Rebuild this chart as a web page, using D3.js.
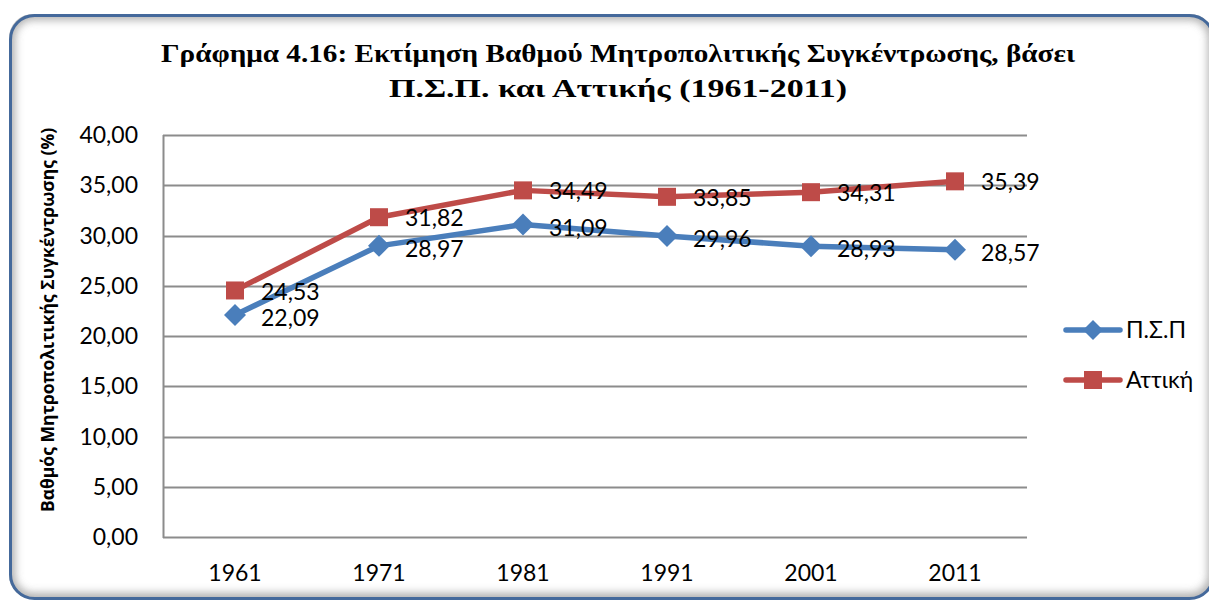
<!DOCTYPE html>
<html><head><meta charset="utf-8">
<script src="https://cdn.jsdelivr.net/npm/d3@7"></script>
<style>body{margin:0;background:#fff;}svg{display:block;}</style>
</head><body>
<svg id="c" width="1209" height="601"></svg>
<script>
const categories = ["1961","1971","1981","1991","2001","2011"];
const psp = [22.09, 28.97, 31.09, 29.96, 28.93, 28.57];
const attiki = [24.53, 31.82, 34.49, 33.85, 34.31, 35.39];
const yTicks = [0,5,10,15,20,25,30,35,40];
const seriesNames = ["Π.Σ.Π", "Αττική"];
const colors = ["#4a7ebb", "#be4b48"];
const titleLines = ["Γράφημα 4.16: Εκτίμηση Βαθμού Μητροπολιτικής Συγκέντρωσης, βάσει", "Π.Σ.Π. και Αττικής (1961-2011)"];
const yTitle = "Βαθμός Μητροπολιτικής Συγκέντρωσης (%)";

const svg = d3.select("#c");
const defs = svg.append("defs");
const f = defs.append("filter").attr("id","blur").attr("x","-10%").attr("y","-10%").attr("width","120%").attr("height","120%");
f.append("feGaussianBlur").attr("stdDeviation",4);
const clip = defs.append("clipPath").attr("id","fr");
clip.append("rect").attr("x",9).attr("y",14).attr("width",1205).attr("height",585).attr("rx",24);

// frame inner shadow
svg.append("g").attr("clip-path","url(#fr)")
  .append("rect").attr("x",9).attr("y",14).attr("width",1205).attr("height",585).attr("rx",24)
  .attr("fill","none").attr("stroke","#9a9a9a").attr("stroke-width",12).attr("filter","url(#blur)").attr("opacity",0.8);
svg.append("rect").attr("x",10.5).attr("y",15.5).attr("width",1203).attr("height",583).attr("rx",24)
  .attr("fill","none").attr("stroke","#44699b").attr("stroke-width",3);

const L=163, R=1027, T=135, B=537;
const x = d3.scalePoint().domain(categories).range([L,R]).padding(0.5);
const y = d3.scaleLinear().domain([0,40]).range([B,T]);

// gridlines
svg.append("g").selectAll("line").data(yTicks).join("line")
  .attr("x1",L).attr("x2",R).attr("y1",d=>Math.round(y(d))+0.5).attr("y2",d=>Math.round(y(d))+0.5)
  .attr("stroke","#8c8c8c").attr("stroke-width",2);
svg.append("line").attr("x1",L+0.5).attr("x2",L+0.5).attr("y1",T).attr("y2",B+1).attr("stroke","#8c8c8c").attr("stroke-width",2);

const font = "Lato, 'Open Sans', sans-serif";
const fmt = d => d.toFixed(2).replace(".",",");

// y tick labels
svg.append("g").selectAll("text").data(yTicks).join("text")
  .attr("x",138).attr("y",d=>y(d)).attr("dy","0.35em").attr("text-anchor","end")
  .attr("font-family",font).attr("font-size",23).attr("fill","#000").text(d=>fmt(d));
// x tick labels
svg.append("g").selectAll("text").data(categories).join("text")
  .attr("x",d=>x(d)).attr("y",573).attr("dy","0.35em").attr("text-anchor","middle")
  .attr("font-family",font).attr("font-size",23).attr("fill","#000").text(d=>d);

// title
const titleW = [914, 458];
svg.append("g").selectAll("text").data(titleLines).join("text")
  .attr("x",618).attr("y",(d,i)=>53+i*35).attr("dy","0.35em").attr("text-anchor","middle")
  .attr("textLength",(d,i)=>titleW[i]).attr("lengthAdjust","spacingAndGlyphs")
  .attr("font-family","'Liberation Serif', serif").attr("font-weight","bold").attr("font-size",25).text(d=>d);

// y title
svg.append("text").attr("transform","translate(48,320) rotate(-90)").attr("dy","0.35em")
  .attr("text-anchor","middle").attr("font-family","'Open Sans', sans-serif").attr("font-weight","bold").attr("font-size",17.5).text(yTitle);

const line = d3.line().x((d,i)=>x(categories[i])).y(d=>y(d));
const allSeries = [psp, attiki];
const diamond = s => `M0,${-s}L${s},0L0,${s}L${-s},0Z`;

allSeries.forEach((vals,si)=>{
  const g = svg.append("g");
  g.append("path").attr("d",line(vals)).attr("fill","none").attr("stroke",colors[si]).attr("stroke-width",5.5).attr("stroke-linejoin","round");
  vals.forEach((v,i)=>{
    const cx = x(categories[i]), cy = y(v);
    if(si===0) g.append("path").attr("d",diamond(11)).attr("transform",`translate(${cx},${cy})`).attr("fill",colors[si]);
    else g.append("rect").attr("x",cx-9).attr("y",cy-9).attr("width",18).attr("height",18).attr("fill",colors[si]);
  });
});
// data labels
const labelShift = [3, 1];
allSeries.forEach((vals,si)=>{
  svg.append("g").selectAll("text").data(vals).join("text")
    .attr("x",(d,i)=>x(categories[i])+26).attr("y",d=>y(d)+labelShift[si]).attr("dy","0.35em")
    .attr("font-family",font).attr("font-size",23).attr("fill","#000").text(d=>fmt(d));
});

// legend
seriesNames.forEach((n,si)=>{
  const ly = 330 + si*50;
  const g = svg.append("g");
  g.append("line").attr("x1",1066).attr("x2",1120).attr("y1",ly).attr("y2",ly).attr("stroke",colors[si]).attr("stroke-width",5.5).attr("stroke-linecap","round");
  if(si===0) g.append("path").attr("d",diamond(10)).attr("transform",`translate(1093,${ly})`).attr("fill",colors[si]);
  else g.append("rect").attr("x",1084).attr("y",ly-9).attr("width",18).attr("height",18).attr("fill",colors[si]);
  g.append("text").attr("x",1126).attr("y",ly).attr("dy","0.35em").attr("font-family",font).attr("font-size",23).text(n);
});
</script>
</body></html>
